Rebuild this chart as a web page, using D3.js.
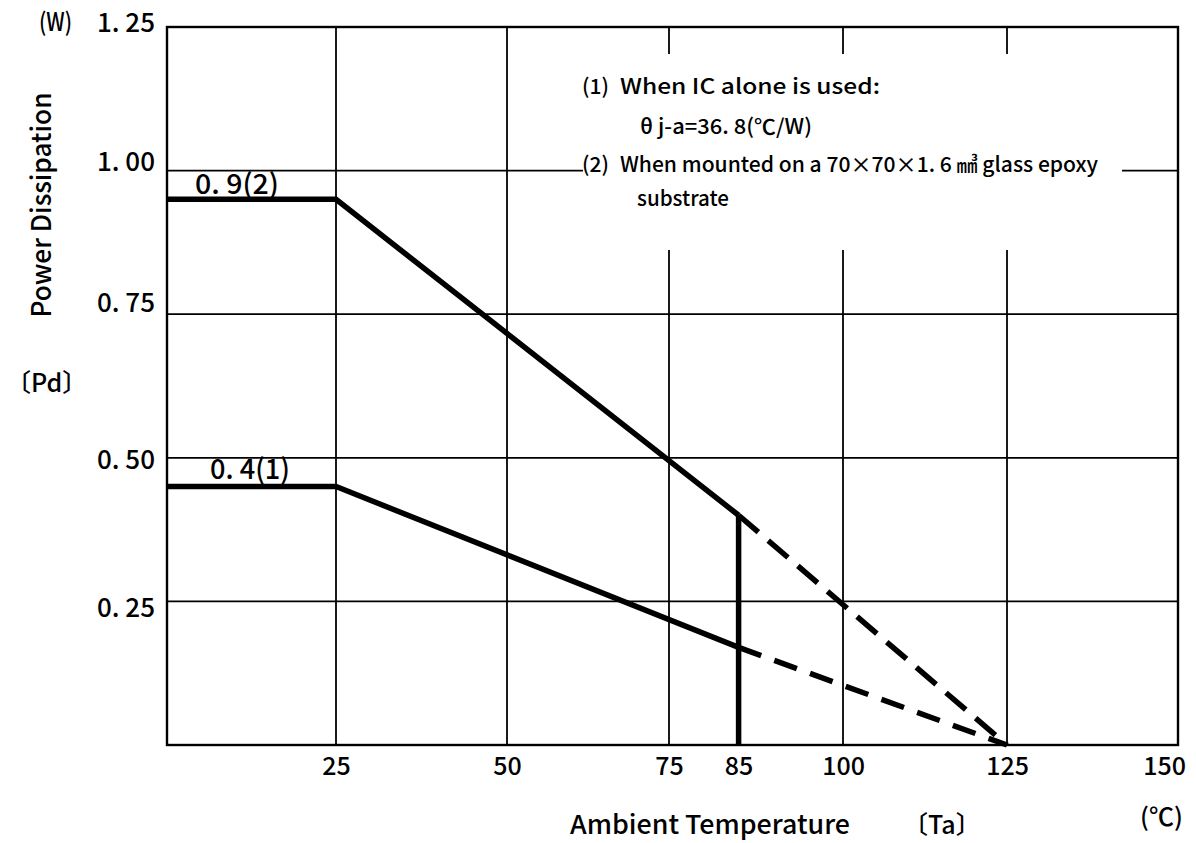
<!DOCTYPE html>
<html>
<head>
<meta charset="utf-8">
<script src="https://cdn.jsdelivr.net/npm/d3@7"></script>
<style>
  body { margin: 0; background: #fff; }
  text { font-family: "Noto Sans CJK JP", "Noto Sans", sans-serif; font-weight: 500; fill: #000; }
</style>
</head>
<body>
<div id="chart"></div>
<script>
// ambient temperature (deg C) and power dissipation (W)
const xTicks = [25, 50, 75, 85, 100, 125, 150];
const yTicks = [0.25, 0.5, 0.75, 1.0, 1.25];
const yTickLabels = ["0. 25", "0. 50", "0. 75", "1. 00", "1. 25"];

const flatTa = [0, 25, 85];
const substratePd = [0.95, 0.95, 0.40];   // (2) glass epoxy board
const alonePd = [0.45, 0.45, 0.17];       // (1) IC alone
const dashTa = [85, 125];
const substrateDashPd = [0.40, 0];
const aloneDashPd = [0.17, 0];

const legendNums = ["(1)", "(2)"];
const legendLines = [
  "When IC alone is used:",
  "θ j-a=36. 8(℃/W)",
  "When mounted on a 70×70×1. 6 ㎣ glass epoxy",
  "substrate"
];

const width = 1196, height = 843;
const svg = d3.select("#chart").append("svg")
  .attr("width", width).attr("height", height);

const x = d3.scaleLinear()
  .domain([0, 25, 50, 75, 100, 125, 150])
  .range([167, 336, 507, 669, 843, 1007, 1178]);
const y = d3.scaleLinear().domain([0, 1.25]).range([745, 27]);

const grid = svg.append("g").attr("stroke", "#000").attr("stroke-width", 1.8);

// horizontal grid (1.00 line broken by the note text)
[0.25, 0.5, 0.75].forEach(v => {
  grid.append("line").attr("x1", x(0)).attr("x2", x(150)).attr("y1", y(v)).attr("y2", y(v));
});
grid.append("line").attr("x1", x(0)).attr("x2", 583).attr("y1", y(1)).attr("y2", y(1));
grid.append("line").attr("x1", 1122).attr("x2", x(150)).attr("y1", y(1)).attr("y2", y(1));

// vertical grid
[25, 50].forEach(v => {
  grid.append("line").attr("x1", x(v)).attr("x2", x(v)).attr("y1", y(0)).attr("y2", y(1.25));
});
[75, 100, 125].forEach(v => {
  grid.append("line").attr("x1", x(v)).attr("x2", x(v)).attr("y1", y(1.25)).attr("y2", 54);
  grid.append("line").attr("x1", x(v)).attr("x2", x(v)).attr("y1", y(0)).attr("y2", 250);
});

// frame
svg.append("rect")
  .attr("x", x(0)).attr("y", y(1.25))
  .attr("width", x(150) - x(0)).attr("height", y(0) - y(1.25))
  .attr("fill", "none").attr("stroke", "#000").attr("stroke-width", 2.4);

// axes labels
const xAxis = svg.append("g")
  .attr("transform", `translate(0,${y(0)})`)
  .call(d3.axisBottom(x).tickValues(xTicks).tickSize(0).tickPadding(12));
xAxis.select(".domain").remove();
xAxis.selectAll("text").attr("font-size", 25).attr("font-family", null)
  .attr("dx", d => d === 150 ? -14 : 0);

const nudge = { 0.25: 6, 0.5: 2, 0.75: -12, 1: -9, 1.25: -5 };
const yAxis = svg.append("g")
  .attr("transform", `translate(155,0)`)
  .call(d3.axisLeft(y).tickValues(yTicks).tickSize(0).tickPadding(0)
    .tickFormat((d, i) => yTickLabels[i]));
yAxis.select(".domain").remove();
yAxis.selectAll("text").attr("font-size", 26).attr("font-family", null)
  .attr("dy", "0.35em")
  .attr("y", d => nudge[d]);

// data lines
const line = d3.line().x(d => x(d[0])).y(d => y(d[1]));
const lines = svg.append("g").attr("fill", "none").attr("stroke", "#000")
  .attr("stroke-width", 5.5);

lines.append("path").attr("d", line(flatTa.map((t, i) => [t, substratePd[i]])));
lines.append("path").attr("d", line(flatTa.map((t, i) => [t, alonePd[i]])));
lines.append("path").attr("d", line([[85, substratePd[2]], [85, 0]]));
lines.append("path").attr("stroke-dasharray", "26,13")
  .attr("d", line(dashTa.map((t, i) => [t, substrateDashPd[i]])));
lines.append("path").attr("stroke-dasharray", "24,14")
  .attr("d", line(dashTa.map((t, i) => [t, aloneDashPd[i]])));

// series labels
svg.append("text").attr("x", 195).attr("y", 194).attr("font-size", 28)
  .attr("textLength", 84).attr("lengthAdjust", "spacingAndGlyphs").text("0. 9(2)");
svg.append("text").attr("x", 210).attr("y", 479).attr("font-size", 28)
  .attr("textLength", 80).attr("lengthAdjust", "spacingAndGlyphs").text("0. 4(1)");

// note text
const lg = svg.append("g").attr("font-size", 21);
lg.append("text").attr("x", 582).attr("y", 94).text(legendNums[0]);
lg.append("text").attr("x", 620).attr("y", 94)
  .attr("textLength", 260).attr("lengthAdjust", "spacingAndGlyphs").text(legendLines[0]);
lg.append("text").attr("x", 640).attr("y", 134)
  .attr("textLength", 172).attr("lengthAdjust", "spacingAndGlyphs").text(legendLines[1]);
lg.append("text").attr("x", 582).attr("y", 172).text(legendNums[1]);
lg.append("text").attr("x", 620).attr("y", 172)
  .attr("textLength", 478).attr("lengthAdjust", "spacingAndGlyphs").text(legendLines[2]);
lg.append("text").attr("x", 637).attr("y", 206)
  .attr("textLength", 92).attr("lengthAdjust", "spacingAndGlyphs").text(legendLines[3]);

// units and titles
svg.append("text").attr("x", 39).attr("y", 31).attr("font-size", 25)
  .attr("textLength", 33).attr("lengthAdjust", "spacingAndGlyphs").text("(W)");
svg.append("text").attr("x", 1140).attr("y", 826).attr("font-size", 25).text("(℃)");
svg.append("text").attr("x", 570).attr("y", 834).attr("font-size", 26)
  .attr("textLength", 280).attr("lengthAdjust", "spacingAndGlyphs").text("Ambient Temperature");
svg.append("text").attr("x", 903).attr("y", 834).attr("font-size", 25).text("〔Ta〕");
svg.append("text").attr("transform", "translate(51,205) rotate(-90)")
  .attr("text-anchor", "middle").attr("font-size", 27)
  .attr("textLength", 225).attr("lengthAdjust", "spacingAndGlyphs").text("Power Dissipation");
svg.append("text").attr("x", 6).attr("y", 392).attr("font-size", 25).text("〔Pd〕");
</script>
</body>
</html>
